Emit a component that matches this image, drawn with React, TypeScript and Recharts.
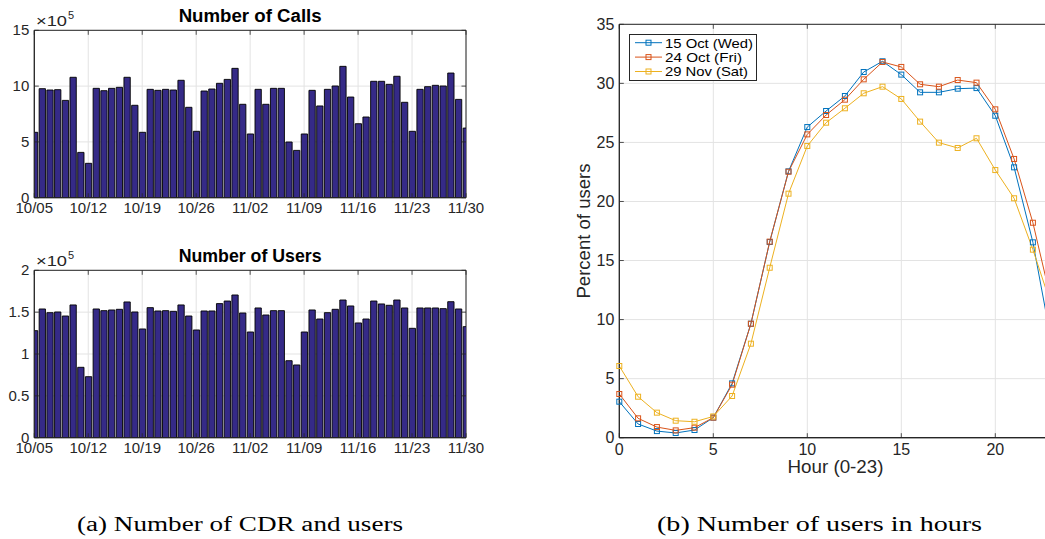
import React from 'react';
import {
  BarChart, Bar, XAxis, YAxis, CartesianGrid, ReferenceArea,
  LineChart, Line, Legend,
} from 'recharts';

// ---------- data ----------
const dayTickPositions = [0, 7, 14, 21, 28, 35, 42, 49, 56];
const dayTickLabels = ['10/05', '10/12', '10/19', '10/26', '11/02', '11/09', '11/16', '11/23', '11/30'];

// number of calls per day (x 10^5), 10/05 .. 11/30
const callsE5 = [
  5.86, 9.77, 9.65, 9.68, 8.72, 10.79, 4.06, 3.08, 9.8, 9.59,
  9.8, 9.89, 10.79, 8.28, 5.86, 9.71, 9.62, 9.71, 9.65, 10.52,
  8.1, 5.95, 9.56, 9.74, 10.25, 10.6, 11.59, 8.37, 5.71, 9.71,
  8.37, 9.8, 9.8, 4.99, 4.24, 5.71, 9.62, 8.22, 9.71, 10.01,
  11.77, 9.02, 6.63, 7.23, 10.43, 10.43, 10.16, 10.88, 8.55, 5.95,
  9.71, 9.95, 10.07, 10.01, 11.17, 8.81, 6.24,
];

// number of users per day (x 10^5)
const usersE5 = [
  1.279, 1.538, 1.494, 1.502, 1.454, 1.586, 0.841, 0.729, 1.538, 1.518,
  1.526, 1.534, 1.622, 1.502, 1.299, 1.554, 1.514, 1.518, 1.51, 1.586,
  1.454, 1.287, 1.514, 1.514, 1.602, 1.633, 1.705, 1.49, 1.263, 1.55,
  1.466, 1.518, 1.518, 0.92, 0.869, 1.263, 1.526, 1.418, 1.494, 1.534,
  1.645, 1.574, 1.371, 1.418, 1.633, 1.598, 1.582, 1.645, 1.55, 1.307,
  1.55, 1.55, 1.55, 1.542, 1.625, 1.538, 1.327,
];

const callsTicks = [0, 5, 10, 15];
const usersTicks = [0, 0.5, 1, 1.5, 2];

const hours = [0, 1, 2, 3, 4, 5, 6, 7, 8, 9, 10, 11, 12, 13, 14, 15, 16, 17, 18, 19, 20, 21, 22, 23];
const wed15Oct = [3.05, 1.16, 0.56, 0.4, 0.65, 1.7, 4.6, 9.65, 16.57, 22.55, 26.3, 27.66, 28.93, 30.96, 31.87, 30.74, 29.24, 29.24, 29.55, 29.6, 27.26, 22.89, 16.54, 8.0];
const fri24Oct = [3.7, 1.64, 0.9, 0.62, 0.85, 1.7, 4.49, 9.65, 16.6, 22.52, 25.68, 27.32, 28.62, 30.34, 31.81, 31.39, 29.92, 29.72, 30.28, 30.06, 27.8, 23.6, 18.2, 11.4];
const sat29Nov = [6.07, 3.47, 2.12, 1.44, 1.35, 1.8, 3.53, 7.96, 14.39, 20.66, 24.7, 26.67, 27.89, 29.16, 29.72, 28.68, 26.76, 24.98, 24.53, 25.35, 22.66, 20.27, 15.92, 11.1];
const hourTicks = [0, 5, 10, 15, 20];
const percentTicks = [0, 5, 10, 15, 20, 25, 30, 35];

const seriesNames = ['15 Oct (Wed)', '24 Oct (Fri)', '29 Nov (Sat)'];
const seriesColors = ['#0072BD', '#D95319', '#EDB120'];
const legendTextWidths = [88, 77, 83];

// ---------- styles ----------
const SANS = 'Liberation Sans, Arial, Helvetica, sans-serif';
const AXIS = '#262626';
const GRID = '#e3e3e3';
const BAR_FILL = '#352a87';
const TICKLEN = 4.5;

// ---------- bar chart ----------
type DailyProps = { values: number[]; title: string; yMax: number; yTicks: number[] };

function DailyBars({ values, title, yMax, yTicks }: DailyProps) {
  const data = values.map((v, i) => ({ day: i, v }));
  const W = 500, H = 225;
  const pTop = 30.3, pLeft = 34.3, pRight = 466, pBottom = 197.7;
  const XH = 25;
  const margin = { top: pTop, left: 0, right: W - pRight, bottom: H - pBottom - XH };

  const xTick = (p: any) => {
    const idx = dayTickPositions.indexOf(p.payload.value);
    const x = p.x;
    return (
      <g>
        <line x1={x} x2={x} y1={pBottom} y2={pBottom - TICKLEN} stroke={AXIS} strokeWidth={0.8} />
        <line x1={x} x2={x} y1={pTop} y2={pTop + TICKLEN} stroke={AXIS} strokeWidth={0.8} />
        <text x={x} y={p.y} dy="0.71em" textAnchor="middle" fontSize={15} fontFamily={SANS} fill={AXIS}>
          {idx >= 0 ? dayTickLabels[idx] : ''}
        </text>
      </g>
    );
  };
  const yTick = (p: any) => {
    const y = p.y;
    return (
      <g>
        <line x1={pLeft} x2={pLeft + TICKLEN} y1={y} y2={y} stroke={AXIS} strokeWidth={0.8} />
        <line x1={pRight} x2={pRight - TICKLEN} y1={y} y2={y} stroke={AXIS} strokeWidth={0.8} />
        <text x={p.x} y={y} dy="0.33em" textAnchor="end" fontSize={15} fontFamily={SANS} fill={AXIS}>
          {String(p.payload.value)}
        </text>
      </g>
    );
  };
  const expLabel = (p: any) => {
    const vb = p.viewBox;
    const left = vb.x + vb.width;
    return (
      <g>
        <text x={left + 1.7} y={vb.y - 4.3} fontSize={15} fontFamily={SANS} fill={AXIS} textLength={31} lengthAdjust="spacingAndGlyphs">×10</text>
        <text x={left + 33.7} y={vb.y - 11} fontSize={11} fontFamily={SANS} fill={AXIS}>5</text>
      </g>
    );
  };
  const titleLabel = (p: any) => {
    const vb = p.viewBox;
    return (
      <text x={vb.x + vb.width / 2} y={vb.y - 8.6} textAnchor="middle" fontSize={17.5} fontWeight="bold" fontFamily={SANS} fill="#000" textLength={143} lengthAdjust="spacingAndGlyphs">
        {title}
      </text>
    );
  };

  return (
    <BarChart width={W} height={H} data={data} margin={margin}>
      <CartesianGrid stroke={GRID} strokeWidth={1} />
      <XAxis
        dataKey="day" type="number" domain={[0, 56]} ticks={dayTickPositions} interval={0}
        allowDataOverflow height={XH} tickSize={0} tickMargin={5} tickLine={false}
        axisLine={{ stroke: AXIS }} tick={xTick}
      />
      <YAxis
        type="number" domain={[0, yMax]} ticks={yTicks} interval={0} allowDataOverflow
        width={pLeft} tickSize={0} tickMargin={5} tickLine={false}
        axisLine={{ stroke: AXIS }} tick={yTick} label={expLabel}
      />
      <Bar dataKey="v" fill={BAR_FILL} stroke="#000" strokeWidth={0.9} barSize={6.3} isAnimationActive={false} />
      <ReferenceArea x1={0} x2={56} y1={0} y2={yMax} fill="none" stroke={AXIS} strokeWidth={1} label={titleLabel} />
    </BarChart>
  );
}

// ---------- line chart ----------
function HourLines() {
  const data = hours.map((h, i) => ({ h, wed: wed15Oct[i], fri: fri24Oct[i], sat: sat29Nov[i] }));
  const W = 540, H = 480;
  const pTop = 24.3, pLeft = 79.3, pRight = 511.7, pBottom = 437.7;
  const XH = 40, YW = 60;
  const margin = { top: pTop, left: pLeft - YW, right: W - pRight, bottom: H - pBottom - XH };

  const xTick = (p: any) => {
    const x = p.x;
    return (
      <g>
        <line x1={x} x2={x} y1={pBottom} y2={pBottom - TICKLEN} stroke={AXIS} strokeWidth={0.8} />
        <line x1={x} x2={x} y1={pTop} y2={pTop + TICKLEN} stroke={AXIS} strokeWidth={0.8} />
        <text x={x} y={p.y} dy="0.71em" textAnchor="middle" fontSize={16} fontFamily={SANS} fill={AXIS}>
          {String(p.payload.value)}
        </text>
      </g>
    );
  };
  const yTick = (p: any) => {
    const y = p.y;
    return (
      <g>
        <line x1={pLeft} x2={pLeft + TICKLEN} y1={y} y2={y} stroke={AXIS} strokeWidth={0.8} />
        <text x={p.x} y={y} dy="0.34em" textAnchor="end" fontSize={16} fontFamily={SANS} fill={AXIS}>
          {String(p.payload.value)}
        </text>
      </g>
    );
  };
  const xLabel = (p: any) => {
    const vb = p.viewBox;
    return (
      <text x={vb.x + vb.width / 2} y={vb.y + 35} textAnchor="middle" fontSize={18} fontFamily={SANS} fill={AXIS} textLength={96} lengthAdjust="spacingAndGlyphs">
        Hour (0-23)
      </text>
    );
  };
  const yLabel = (p: any) => {
    const vb = p.viewBox;
    const cx = vb.x + 30.7;
    const cy = vb.y + vb.height / 2;
    return (
      <text x={cx} y={cy} transform={`rotate(-90 ${cx} ${cy})`} textAnchor="middle" fontSize={19} fontFamily={SANS} fill={AXIS} textLength={135} lengthAdjust="spacingAndGlyphs">
        Percent of users
      </text>
    );
  };
  const squareDot = (color: string) => (p: any) => (
    <rect
      key={`${color}-${p.index}`}
      x={p.cx - 2.5} y={p.cy - 2.5} width={5} height={5}
      fill="none" stroke={color} strokeWidth={1}
    />
  );
  const legendContent = (p: any) => {
    const items = (p.payload || []) as any[];
    return (
      <svg width={128} height={47} style={{ display: 'block' }}>
        <rect x={0.5} y={0.5} width={127} height={46} fill="#fff" stroke={AXIS} strokeWidth={1} />
        {items.map((it, i) => {
          const cy = 8.7 + i * 14.4;
          return (
            <g key={i}>
              <line x1={6} x2={33} y1={cy} y2={cy} stroke={it.color} strokeWidth={1} />
              <rect x={17} y={cy - 2.5} width={5} height={5} fill="none" stroke={it.color} strokeWidth={1} />
              <text x={36} y={cy} dy="0.36em" fontSize={13.5} fontFamily={SANS} fill="#000"
                textLength={legendTextWidths[i] ?? undefined} lengthAdjust="spacingAndGlyphs">{it.value}</text>
            </g>
          );
        })}
      </svg>
    );
  };

  return (
    <LineChart width={W} height={H} data={data} margin={margin}>
      <CartesianGrid stroke={GRID} strokeWidth={1} />
      <XAxis
        dataKey="h" type="number" domain={[0, 23]} ticks={hourTicks} interval={0}
        height={XH} tickSize={0} tickMargin={6} tickLine={false}
        axisLine={{ stroke: AXIS, strokeWidth: 1.2 }} tick={xTick} label={xLabel}
      />
      <YAxis
        type="number" domain={[0, 35]} ticks={percentTicks} interval={0}
        width={YW} tickSize={0} tickMargin={5} tickLine={false}
        axisLine={{ stroke: AXIS }} tick={yTick} label={yLabel}
      />
      <Line type="linear" dataKey="wed" name={seriesNames[0]} stroke={seriesColors[0]} strokeWidth={1} dot={squareDot(seriesColors[0])} isAnimationActive={false} />
      <Line type="linear" dataKey="fri" name={seriesNames[1]} stroke={seriesColors[1]} strokeWidth={1} dot={squareDot(seriesColors[1])} isAnimationActive={false} />
      <Line type="linear" dataKey="sat" name={seriesNames[2]} stroke={seriesColors[2]} strokeWidth={1} dot={squareDot(seriesColors[2])} isAnimationActive={false} />
      <ReferenceArea x1={0} x2={23} y1={0} y2={35} fill="none" stroke={AXIS} strokeWidth={1} />
      <Legend
        layout="vertical" align="center" verticalAlign="middle"
        content={legendContent}
        wrapperStyle={{ left: 89, top: 34, width: 128, height: 47 }}
      />
    </LineChart>
  );
}

const SERIF = 'Liberation Serif, Times New Roman, serif';

export default function App() {
  return (
    <div style={{ position: 'absolute', left: 0, top: 0, width: 1045, height: 539, overflow: 'hidden', background: '#fff' }}>
      <div style={{ position: 'absolute', left: 0, top: 0 }}>
        <DailyBars values={callsE5} title="Number of Calls" yMax={15} yTicks={callsTicks} />
      </div>
      <div style={{ position: 'absolute', left: 0, top: 240 }}>
        <DailyBars values={usersE5} title="Number of Users" yMax={2} yTicks={usersTicks} />
      </div>
      <div style={{ position: 'absolute', left: 540, top: 0 }}>
        <HourLines />
      </div>
      <svg style={{ position: 'absolute', left: 0, top: 495 }} width={1045} height={44}>
        <text x={77} y={35.7} fontSize={20} fontFamily={SERIF} fill="#000" textLength={326} lengthAdjust="spacingAndGlyphs">
          (a) Number of CDR and users
        </text>
        <text x={657} y={35.7} fontSize={20} fontFamily={SERIF} fill="#000" textLength={325} lengthAdjust="spacingAndGlyphs">
          (b) Number of users in hours
        </text>
      </svg>
    </div>
  );
}
